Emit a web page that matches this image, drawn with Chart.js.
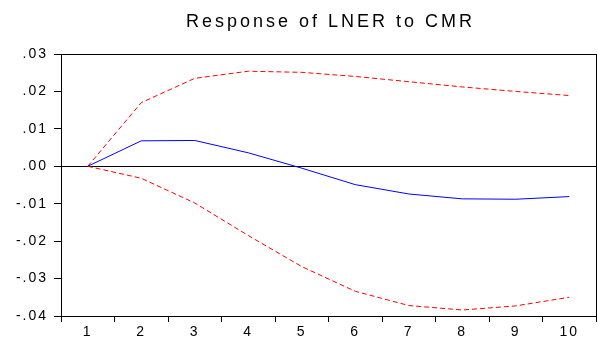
<!DOCTYPE html>
<html>
<head>
<meta charset="utf-8">
<title>Response of LNER to CMR</title>
<script src="https://cdn.jsdelivr.net/npm/chart.js@4/dist/chart.umd.min.js"></script>
<style>
  html, body { margin: 0; padding: 0; background: #ffffff; }
  #wrap { width: 598px; height: 343px; position: relative; }
</style>
</head>
<body>
<div id="wrap"><canvas id="irf"></canvas></div>
<script>
// Impulse response periods
const periods = ['1', '2', '3', '4', '5', '6', '7', '8', '9', '10'];

// Response of LNER to a CMR shock
const response = [0, 0.0068, 0.0069, 0.0036, -0.0005, -0.0049, -0.0074, -0.0087, -0.0088, -0.0081];

// +/- 2 S.E. bands
const upperBand = [0, 0.0170, 0.0235, 0.0254, 0.0251, 0.0240, 0.0226, 0.0212, 0.0200, 0.0189];
const lowerBand = [0, -0.0032, -0.0098, -0.0185, -0.0268, -0.0334, -0.0372, -0.0384, -0.0373, -0.0350];

// Y axis ticks and their labels
const yTicks = [-0.04, -0.03, -0.02, -0.01, 0.00, 0.01, 0.02, 0.03];
const yTickLabels = ['-.04', '-.03', '-.02', '-.01', '.00', '.01', '.02', '.03'];

const chartTitle = 'Response of LNER to CMR';

const FONT = '"Liberation Sans", Arial, Helvetica, sans-serif';

// Wide, tracked lettering for all axis text
const tracking = {
  id: 'tracking',
  beforeDraw(chart) {
    chart.ctx.letterSpacing = '2px';
  }
};

// Frame around the plotting area and the heading above it
const frame = {
  id: 'frame',
  afterDatasetsDraw(chart) {
    const { ctx, chartArea: a } = chart;
    ctx.save();
    ctx.strokeStyle = '#000000';
    ctx.lineWidth = 1;
    ctx.strokeRect(Math.round(a.left) + 0.5, Math.round(a.top) + 0.5,
                   Math.round(a.right - a.left), Math.round(a.bottom - a.top));
    ctx.restore();
  },
  afterDraw(chart) {
    const { ctx, chartArea: a } = chart;
    ctx.save();
    ctx.letterSpacing = '3px';
    ctx.font = '18px ' + FONT;
    ctx.fillStyle = '#000000';
    ctx.textAlign = 'center';
    ctx.textBaseline = 'alphabetic';
    ctx.fillText(chartTitle, (a.left + a.right) / 2 + 2, 26.5);
    ctx.restore();
  }
};

new Chart(document.getElementById('irf'), {
  type: 'line',
  data: {
    labels: periods,
    datasets: [
      {
        label: 'Response',
        data: response,
        borderColor: '#0000ff',
        borderWidth: 1,
        pointRadius: 0,
        tension: 0,
        fill: false
      },
      {
        label: '+2 S.E.',
        data: upperBand,
        borderColor: '#ff0000',
        borderWidth: 1,
        borderDash: [5, 3],
        pointRadius: 0,
        tension: 0,
        fill: false
      },
      {
        label: '-2 S.E.',
        data: lowerBand,
        borderColor: '#ff0000',
        borderWidth: 1,
        borderDash: [5, 3],
        pointRadius: 0,
        tension: 0,
        fill: false
      }
    ]
  },
  options: {
    responsive: true,
    maintainAspectRatio: false,
    animation: false,
    layout: { padding: { left: 0, right: 2, top: 54, bottom: 0 } },
    plugins: {
      legend: { display: false },
      tooltip: { enabled: false },
      title: { display: false }
    },
    scales: {
      x: {
        type: 'category',
        offset: true,
        border: { display: true, color: '#000000', width: 1 },
        grid: {
          offset: true,
          drawOnChartArea: false,
          drawTicks: true,
          tickLength: 6,
          tickColor: '#000000'
        },
        ticks: {
          color: '#000000',
          font: { family: FONT, size: 14 },
          padding: 2,
          maxRotation: 0,
          autoSkip: false
        },
        afterFit(scale) { scale.height = 27; }
      },
      y: {
        min: -0.04,
        max: 0.03,
        border: { display: true, color: '#000000', width: 1 },
        grid: {
          drawOnChartArea: true,
          drawTicks: true,
          tickLength: 7,
          tickColor: '#000000',
          color: (c) => (c.tick && Math.abs(c.tick.value) < 1e-9 ? '#000000' : 'rgba(0,0,0,0)'),
          lineWidth: 1
        },
        afterBuildTicks(scale) {
          scale.ticks = yTicks.map((v) => ({ value: v }));
        },
        ticks: {
          color: '#000000',
          font: { family: FONT, size: 14 },
          padding: 6,
          callback: (value, index) => yTickLabels[index]
        },
        afterFit(scale) { scale.width = 61; }
      }
    }
  },
  plugins: [tracking, frame]
});
</script>
</body>
</html>
